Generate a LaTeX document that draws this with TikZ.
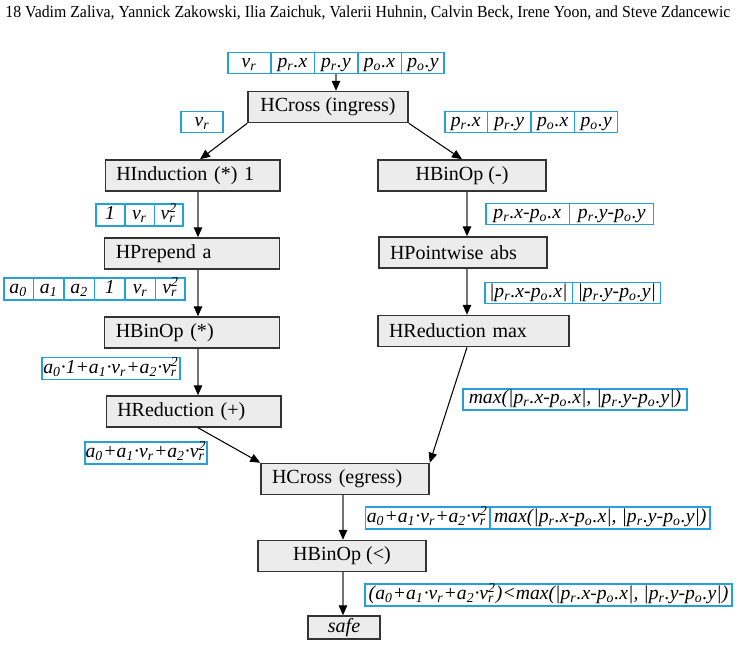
\documentclass[tikz,border=0pt]{standalone}
\usepackage{fontspec}
\setmainfont{Liberation Serif}
\usepackage{tikz}
\usetikzlibrary{
  arrows.meta,
  shapes.multipart,
  positioning
}

\definecolor{cellblue}{RGB}{36,160,220}

%% small helpers for the italic data labels
\newcommand{\vR}{v\textsubscript{r}}
\newcommand{\vRsq}{v\rlap{\textsubscript{r}}\textsuperscript{2}}
\newcommand{\pR}{p\textsubscript{r}}
\newcommand{\pO}{p\textsubscript{o}}
\newcommand{\aI}[1]{a\textsubscript{#1}}
\newcommand{\cell}[2]{\makebox[#1]{\rule[-3.6pt]{0pt}{12.2pt}#2}}
\newcommand{\polyR}{\aI{0}+\aI{1}·\vR+\aI{2}·\vRsq}
\newcommand{\maxR}{max(|\pR.x-\pO.x|, |\pR.y-\pO.y|)}

\begin{document}
\begin{tikzpicture}[
  font=\fontsize{11.4}{13}\selectfont,
  %% ── node styles ────────────────────────────────────────────────────
  %% Grey operator boxes
  op/.style  ={rectangle, draw=black!80, fill=gray!15, line width=0.85pt,
               minimum height=0.62cm, inner xsep=0.22cm, inner ysep=0pt,
               align=center},
  %% Operator boxes with left-aligned label
  opl/.style ={op, text width=#1, align=left},
  %% Blue data tuples (one part per value)
  tup/.style ={rectangle split, rectangle split horizontal,
               rectangle split parts=#1, draw=cellblue, line width=0.85pt,
               fill=white, inner xsep=0pt, inner ysep=0pt,
               font=\fontsize{11.2}{13}\selectfont\itshape},
  %% Arrows
  arr/.style ={-{Triangle[length=0.2cm,width=0.17cm,color=black]},
               draw=black!55, line width=0.8pt},
  darr/.style={-{Triangle[length=0.2cm,width=0.17cm]}, draw=black,
               line width=0.6pt},
]

\useasboundingbox (0,0) rectangle (14.76,-12.92);

%% running head
\node[anchor=base west, inner sep=0pt, font=\fontsize{9.6}{11}\selectfont]
  (head) at (0.1,-0.34)
  {\scalebox{0.937}[1]{18 Vadim Zaliva, Yannick Zakowski, Ilia Zaichuk, Valerii Huhnin, Calvin Beck, Irene Yoon, and Steve Zdancewic}};

%% ════════════════════════════════════════════════════════════════════
%% OPERATORS
%% ════════════════════════════════════════════════════════════════════

\node[op, minimum width=3.2cm]  (ingress) at (6.56,-2.14) {HCross (ingress)};

%% left column
\node[opl=3.05cm] (ind)  at (3.85,-3.51) {HInduction (*) 1};
\node[opl=3.05cm] (prep) at (3.84,-5.07) {HPrepend a};
\node[opl=3.05cm] (mul)  at (3.84,-6.65) {HBinOp (*)};
\node[opl=3.05cm] (sum)  at (3.87,-8.23) {HReduction (+)};

%% right column
\node[op, minimum width=3.36cm] (sub) at (9.24,-3.51) {HBinOp (-)};
\node[opl=2.92cm] (abs) at (9.26,-5.05) {HPointwise abs};
\node[opl=3.38cm] (max) at (9.47,-6.62) {HReduction max};

%% tail
\node[opl=2.92cm] (egress) at (6.90,-9.58) {HCross (egress)};
\node[op, minimum width=3.36cm] (lt) at (6.84,-11.12) {HBinOp (<)};
\node[op, minimum width=1.44cm, minimum height=0.46cm,
      font=\fontsize{11.4}{13}\selectfont\itshape]
  (safe) at (6.88,-12.55) {safe};

%% ════════════════════════════════════════════════════════════════════
%% DATA TUPLES
%% ════════════════════════════════════════════════════════════════════

\node[tup=5] (t1) at (6.72,-1.26)
  {\cell{0.84cm}{\vR}\nodepart{two}\cell{0.84cm}{\pR.x}
   \nodepart{three}\cell{0.84cm}{\pR.y}\nodepart{four}\cell{0.84cm}{\pO.x}
   \nodepart{five}\cell{0.84cm}{\pO.y}};

\node[tup=1] (t2) at (4.04,-2.44) {\cell{0.84cm}{\vR}};

\node[tup=4] (t3) at (10.62,-2.44)
  {\cell{0.84cm}{\pR.x}\nodepart{two}\cell{0.84cm}{\pR.y}
   \nodepart{three}\cell{0.84cm}{\pO.x}\nodepart{four}\cell{0.84cm}{\pO.y}};

\node[tup=3] (t4) at (2.79,-4.30)
  {\cell{0.56cm}{1}\nodepart{two}\cell{0.56cm}{\vR}
   \nodepart{three}\cell{0.56cm}{\vRsq}};

\node[tup=6] (t5) at (1.89,-5.78)
  {\cell{0.58cm}{\aI{0}}\nodepart{two}\cell{0.58cm}{\aI{1}}
   \nodepart{three}\cell{0.58cm}{\aI{2}}\nodepart{four}\cell{0.58cm}{1}
   \nodepart{five}\cell{0.58cm}{\vR}\nodepart{six}\cell{0.58cm}{\vRsq}};

\node[tup=2] (t6) at (11.39,-4.28)
  {\cell{1.66cm}{\pR.x-\pO.x}\nodepart{two}\cell{1.66cm}{\pR.y-\pO.y}};

\node[tup=2] (t7) at (11.45,-5.86)
  {\cell{1.74cm}{|\pR.x-\pO.x|}\nodepart{two}\cell{1.74cm}{|\pR.y-\pO.y|}};

\node[tup=1] (t8)  at (2.22,-7.37)
  {\cell{2.76cm}{\aI{0}·1+\aI{1}·\vR+\aI{2}·\vRsq}};

\node[tup=1] (t9)  at (11.50,-7.99) {\cell{4.48cm}{\maxR}};

\node[tup=1] (t10) at (2.92,-9.06) {\cell{2.44cm}{\polyR}};

\node[tup=2] (t11) at (10.75,-10.36)
  {\cell{2.48cm}{\polyR}\nodepart{two}\cell{4.38cm}{\maxR}};

\node[tup=1] (t12) at (10.97,-11.90)
  {\cell{7.34cm}{(\polyR)<\maxR}};

%% ════════════════════════════════════════════════════════════════════
%% CONNECTORS
%% ════════════════════════════════════════════════════════════════════

\coordinate (lx) at (3.96,0);   % left column spine
\coordinate (rx) at (9.34,0);   % right column spine
\coordinate (bx) at (6.86,0);   % tail spine

\draw[arr] (t1.south) -- (t1.south |- ingress.north);

\draw[darr] (ingress.south west) -- ([xshift=0.15cm]ind.north);
\draw[darr] (ingress.south east) -- (sub.north);

\foreach \a/\b in {ind/prep, prep/mul, mul/sum}
  \draw[arr] (\a.south -| lx) -- (\b.north -| lx);
\foreach \a/\b in {sub/abs, abs/max}
  \draw[arr] (\a.south -| rx) -- (\b.north -| rx);

\draw[darr] (sum.south -| lx) -- (egress.north west);
\draw[darr] (max.south -| rx) -- (egress.north east);

\foreach \a/\b in {egress/lt, lt/safe}
  \draw[arr] (\a.south -| bx) -- (\b.north -| bx);

\end{tikzpicture}
\end{document}
